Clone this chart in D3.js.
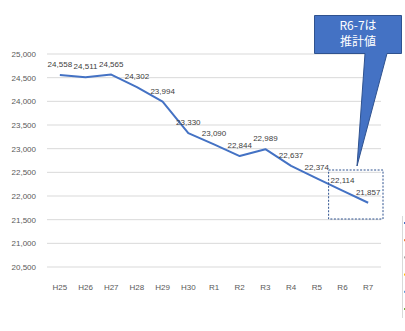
<!DOCTYPE html>
<html>
<head>
<meta charset="utf-8">
<script src="https://cdn.jsdelivr.net/npm/d3@7"></script>
<style>
  html, body { margin: 0; padding: 0; background: #fff; }
  svg { display: block; }
</style>
</head>
<body>
<svg id="chart" width="405" height="331"></svg>
<script>
// Fiscal years (Heisei / Reiwa)
const years = ["H25","H26","H27","H28","H29","H30","R1","R2","R3","R4","R5","R6","R7"];
// Population per year; R6 and R7 are estimates
const population = [24558, 24511, 24565, 24302, 23994, 23330, 23090, 22844, 22989, 22637, 22374, 22114, 21857];
const yTicks = [20500, 21000, 21500, 22000, 22500, 23000, 23500, 24000, 24500, 25000];
const estimatedYears = ["R6", "R7"];
const calloutLines = ["R6-7は", "推計値"];
const legendColors = ["#4472C4", "#ED7D31", "#A5A5A5", "#FFC000", "#5B9BD5", "#70AD47"];

const svg = d3.select("#chart");
const font = "'Liberation Sans', Arial, sans-serif";

const x = d3.scaleBand().domain(years).range([47, 381]).padding(0);
const y = d3.scaleLinear().domain([20500, 25000]).range([267, 54]);
const cx = d => x(d) + x.bandwidth() / 2;

// Horizontal gridlines
svg.append("g")
  .selectAll("line")
  .data(yTicks)
  .join("line")
  .attr("x1", 47).attr("x2", 381)
  .attr("y1", d => y(d)).attr("y2", d => y(d))
  .attr("stroke", "#d9d9d9").attr("stroke-width", 1);

// Y axis labels
const yAxis = svg.append("g")
  .attr("transform", "translate(40,0)")
  .call(d3.axisLeft(y).tickValues(yTicks).tickFormat(d3.format(",")).tickSize(0).tickPadding(4));
yAxis.select(".domain").remove();
yAxis.selectAll("text").attr("fill", "#595959").attr("font-size", 8).attr("font-family", font);

// X axis labels
const xAxis = svg.append("g")
  .attr("transform", "translate(0,281)")
  .call(d3.axisBottom(x).tickSize(0).tickPadding(3));
xAxis.select(".domain").remove();
xAxis.selectAll("text").attr("fill", "#595959").attr("font-size", 8).attr("font-family", font);

// Population line
const pts = years.map((yr, i) => ({ yr, v: population[i] }));
svg.append("path")
  .datum(pts)
  .attr("fill", "none")
  .attr("stroke", "#4472C4")
  .attr("stroke-width", 2)
  .attr("stroke-linejoin", "round")
  .attr("d", d3.line().x(d => cx(d.yr)).y(d => y(d.v)));

// Value labels
svg.append("g")
  .selectAll("text")
  .data(pts)
  .join("text")
  .attr("x", d => cx(d.yr))
  .attr("y", d => y(d.v) - 8)
  .attr("text-anchor", "middle")
  .attr("fill", "#404040")
  .attr("font-size", 8)
  .attr("font-family", font)
  .text(d => d3.format(",")(d.v));

// Dashed frame around the estimated years
const ex0 = x(estimatedYears[0]) - 1;
const ex1 = x(estimatedYears[estimatedYears.length - 1]) + x.bandwidth() + 2;
svg.append("rect")
  .attr("x", ex0).attr("y", 170)
  .attr("width", ex1 - ex0).attr("height", 49)
  .attr("fill", "none")
  .attr("stroke", "#2F528F")
  .attr("stroke-width", 1)
  .attr("stroke-dasharray", "2,1.5");

// Callout box with pointer
const callout = svg.append("g");
callout.append("path")
  .attr("d", "M314.5,15.5 H401.5 V53.5 H387 L357,166 L365,53.5 H314.5 Z")
  .attr("fill", "#4472C4")
  .attr("stroke", "#2F528F")
  .attr("stroke-width", 1);
callout.selectAll("text")
  .data(calloutLines)
  .join("text")
  .attr("x", 358)
  .attr("y", (d, i) => 30 + i * 16)
  .attr("text-anchor", "middle")
  .attr("fill", "#ffffff")
  .attr("font-size", 12)
  .attr("font-family", "'Noto Sans CJK JP', sans-serif")
  .text(d => d);

// Edge of a neighbouring legend panel
const edge = svg.append("g");
edge.append("line")
  .attr("x1", 402.5).attr("x2", 402.5).attr("y1", 216).attr("y2", 318)
  .attr("stroke", "#d9d9d9").attr("stroke-width", 1);
edge.selectAll("rect")
  .data(legendColors)
  .join("rect")
  .attr("x", 404).attr("y", (d, i) => 222 + i * 17.2)
  .attr("width", 1).attr("height", 2)
  .attr("fill", d => d);
</script>
</body>
</html>
